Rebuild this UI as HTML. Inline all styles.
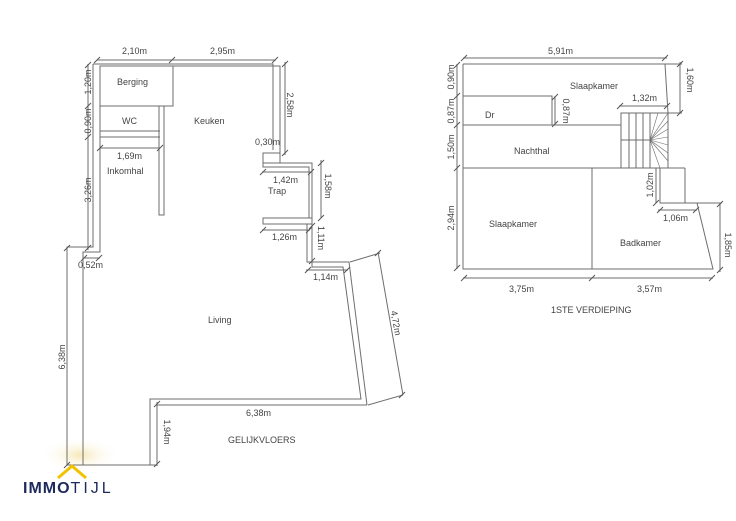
<!DOCTYPE html>
<html><head><meta charset="utf-8"><style>
html,body{margin:0;padding:0;background:#fff;width:736px;height:521px;overflow:hidden}
svg text{font-family:"Liberation Sans",sans-serif;font-size:9px;fill:#444}
</style></head><body>
<svg width="736" height="521" viewBox="0 0 736 521" xmlns="http://www.w3.org/2000/svg">
<defs><radialGradient id="y" cx="0.5" cy="0.5" r="0.5"><stop offset="0" stop-color="#f3df9a" stop-opacity="0.7"/><stop offset="1" stop-color="#fff" stop-opacity="0"/></radialGradient>
<path id="t" d="M-3,3 L3,-3" stroke="#555" stroke-width="1"/></defs>
<ellipse cx="80" cy="455" rx="40" ry="18" fill="url(#y)"/>
<g fill="none" stroke="#6e6e6e" stroke-width="1">
<polyline points="93,64 273,64 273,150"/>
<polyline points="100,66 280,66 280,153"/>
<polyline points="93,64 93,247 67,247 67,465 157,465 157,405 367,405"/>
<polyline points="100,66 100,252 83,252 83,465"/>
<polyline points="150,465 150,399 361,399 343,267 312,267 312,224"/>
<polyline points="367,405 349,262 307,262 307,224"/>
<rect x="263" y="153" width="17" height="10"/>
<polyline points="263,163 263,167 309,167 309,218"/>
<polyline points="280,163 312,163 312,218"/>
<rect x="263" y="218" width="49" height="6"/>
<rect x="100" y="66" width="73" height="40"/>
<polyline points="100,137 160,137"/>
<polyline points="100,131 160,131"/>
<rect x="159" y="106" width="5" height="109"/>
<line x1="97" y1="60" x2="276" y2="60"/>
<line x1="88" y1="64" x2="88" y2="250"/>
<line x1="285" y1="62" x2="285" y2="155"/>
<line x1="100" y1="148" x2="160" y2="148"/>
<line x1="262" y1="172" x2="312" y2="172"/>
<line x1="321" y1="160" x2="321" y2="218"/>
<line x1="262" y1="230" x2="310" y2="230"/>
<line x1="312" y1="225" x2="312" y2="262"/>
<line x1="306" y1="270" x2="348" y2="270"/>
<line x1="378" y1="252" x2="403" y2="395"/>
<line x1="350" y1="262" x2="380" y2="253"/>
<line x1="368" y1="405" x2="403" y2="395"/>
<line x1="157" y1="402" x2="157" y2="466"/>
<line x1="83" y1="258" x2="100" y2="258"/>
<polyline points="463,64 665,64 668,113"/>
<polyline points="463,64 463,269 713,269 697,203 660,203 660,168"/>
<polyline points="685,168 685,203"/>
<line x1="463" y1="168" x2="685" y2="168"/>
<line x1="592" y1="168" x2="592" y2="269"/>
<rect x="463" y="96" width="89" height="29"/>
<line x1="552" y1="125" x2="621" y2="125"/>
<rect x="621" y="113" width="47" height="55"/>
<line x1="629" y1="113" x2="629" y2="168"/>
<line x1="636" y1="113" x2="636" y2="168"/>
<line x1="643" y1="113" x2="643" y2="168"/>
<line x1="650" y1="113" x2="650" y2="168"/>
<line x1="621" y1="140" x2="650" y2="140"/>
<g stroke-width="0.6">
<line x1="650" y1="140" x2="668" y2="113"/><line x1="650" y1="140" x2="668" y2="121"/><line x1="650" y1="140" x2="668" y2="129"/><line x1="650" y1="140" x2="668" y2="137"/><line x1="650" y1="140" x2="668" y2="145"/><line x1="650" y1="140" x2="668" y2="153"/><line x1="650" y1="140" x2="668" y2="161"/><line x1="650" y1="140" x2="660" y2="168"/><line x1="650" y1="140" x2="658" y2="113"/>
</g>
<line x1="463" y1="58" x2="667" y2="58"/>
<line x1="457" y1="64" x2="457" y2="269"/>
<line x1="555" y1="96" x2="555" y2="125"/>
<line x1="619" y1="106" x2="668" y2="106"/>
<line x1="680" y1="62" x2="680" y2="113"/>
<line x1="668" y1="113" x2="682" y2="113"/>
<line x1="665" y1="64" x2="682" y2="64"/>
<line x1="656" y1="168" x2="656" y2="203"/>
<line x1="658" y1="210" x2="697" y2="210"/>
<line x1="720" y1="203" x2="720" y2="272"/>
<line x1="697" y1="203" x2="722" y2="203"/>
<line x1="463" y1="278" x2="713" y2="278"/>
</g>
<g>
<use href="#t" x="97" y="60"/><use href="#t" x="172" y="60"/><use href="#t" x="275" y="60"/>
<use href="#t" x="88" y="65"/><use href="#t" x="88" y="106"/><use href="#t" x="88" y="137"/><use href="#t" x="88" y="248"/>
<use href="#t" x="285" y="64"/><use href="#t" x="285" y="153"/>
<use href="#t" x="100" y="148"/><use href="#t" x="160" y="148"/>
<use href="#t" x="263" y="172"/><use href="#t" x="311" y="172"/>
<use href="#t" x="321" y="163"/><use href="#t" x="321" y="218"/>
<use href="#t" x="263" y="230"/><use href="#t" x="309" y="230"/>
<use href="#t" x="312" y="226"/><use href="#t" x="312" y="261"/>
<use href="#t" x="308" y="270"/><use href="#t" x="347" y="270"/>
<use href="#t" x="378" y="253"/><use href="#t" x="402" y="395"/>
<use href="#t" x="157" y="404"/><use href="#t" x="157" y="464"/>
<use href="#t" x="67" y="465"/><use href="#t" x="67" y="248"/>
<use href="#t" x="84" y="258"/><use href="#t" x="99" y="258"/>
<use href="#t" x="464" y="58"/><use href="#t" x="665" y="58"/>
<use href="#t" x="457" y="65"/><use href="#t" x="457" y="96"/><use href="#t" x="457" y="125"/><use href="#t" x="457" y="168"/><use href="#t" x="457" y="268"/>
<use href="#t" x="555" y="97"/><use href="#t" x="555" y="124"/>
<use href="#t" x="620" y="106"/><use href="#t" x="667" y="106"/>
<use href="#t" x="680" y="64"/><use href="#t" x="680" y="113"/>
<use href="#t" x="656" y="203"/>
<use href="#t" x="660" y="210"/><use href="#t" x="696" y="210"/>
<use href="#t" x="720" y="204"/><use href="#t" x="720" y="270"/>
<use href="#t" x="464" y="278"/><use href="#t" x="592" y="278"/><use href="#t" x="712" y="278"/>
</g>
<g fill="#333">
<text x="122" y="54">2,10m</text>
<text x="210" y="54">2,95m</text>
<text x="117" y="85">Berging</text>
<text x="122" y="124">WC</text>
<text x="194" y="124">Keuken</text>
<text x="117" y="159">1,69m</text>
<text x="107" y="174">Inkomhal</text>
<text x="255" y="145">0,30m</text>
<text x="273" y="183">1,42m</text>
<text x="268" y="194">Trap</text>
<text x="272" y="240">1,26m</text>
<text x="313" y="280">1,14m</text>
<text x="78" y="268">0,52m</text>
<text x="208" y="323">Living</text>
<text x="246" y="416">6,38m</text>
<text x="228" y="443">GELIJKVLOERS</text>
<text x="88" y="82" transform="rotate(-90 88 82)" text-anchor="middle" dy="3">1,20m</text>
<text x="88" y="121" transform="rotate(-90 88 121)" text-anchor="middle" dy="3">0,90m</text>
<text x="88" y="190" transform="rotate(-90 88 190)" text-anchor="middle" dy="3">3,26m</text>
<text x="62" y="357" transform="rotate(-90 62 357)" text-anchor="middle" dy="3">6,38m</text>
<text x="290" y="105" transform="rotate(90 290 105)" text-anchor="middle" dy="3">2,58m</text>
<text x="328" y="186" transform="rotate(90 328 186)" text-anchor="middle" dy="3">1,58m</text>
<text x="321" y="238" transform="rotate(90 321 238)" text-anchor="middle" dy="3">1,11m</text>
<text x="396" y="323" transform="rotate(80 396 323)" text-anchor="middle" dy="3">4,72m</text>
<text x="167" y="432" transform="rotate(90 167 432)" text-anchor="middle" dy="3">1,94m</text>
<text x="548" y="54">5,91m</text>
<text x="570" y="89">Slaapkamer</text>
<text x="632" y="101">1,32m</text>
<text x="485" y="118">Dr</text>
<text x="514" y="154">Nachthal</text>
<text x="663" y="221">1,06m</text>
<text x="489" y="227">Slaapkamer</text>
<text x="620" y="246">Badkamer</text>
<text x="509" y="292">3,75m</text>
<text x="637" y="292">3,57m</text>
<text x="551" y="313">1STE VERDIEPING</text>
<text x="451" y="77" transform="rotate(-90 451 77)" text-anchor="middle" dy="3">0,90m</text>
<text x="451" y="111" transform="rotate(-90 451 111)" text-anchor="middle" dy="3">0,87m</text>
<text x="451" y="147" transform="rotate(-90 451 147)" text-anchor="middle" dy="3">1,50m</text>
<text x="451" y="218" transform="rotate(-90 451 218)" text-anchor="middle" dy="3">2,94m</text>
<text x="566" y="111" transform="rotate(90 566 111)" text-anchor="middle" dy="3">0,87m</text>
<text x="690" y="80" transform="rotate(90 690 80)" text-anchor="middle" dy="3">1,60m</text>
<text x="650" y="185" transform="rotate(-90 650 185)" text-anchor="middle" dy="3">1,02m</text>
<text x="728" y="245" transform="rotate(90 728 245)" text-anchor="middle" dy="3">1,85m</text>
</g>
<polyline points="58,478 72,466 86,478" fill="none" stroke="#f2c200" stroke-width="3"/>
<text x="23" y="493" style="font-size:16px;font-weight:bold;fill:#1e2a5c;letter-spacing:1px">IMMO<tspan style="font-weight:normal;letter-spacing:3px">TIJL</tspan></text>
</svg>
</body></html>
